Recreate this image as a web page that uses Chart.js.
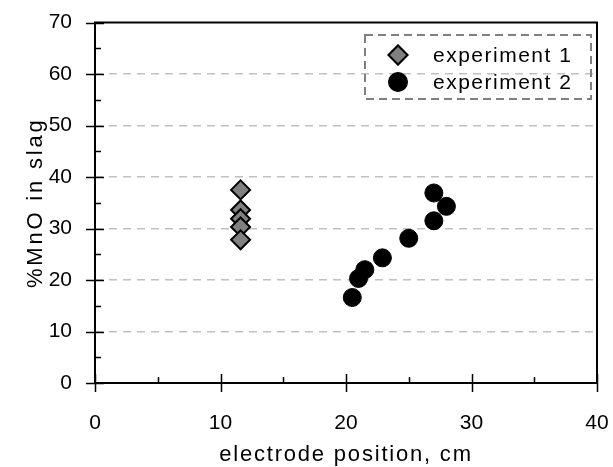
<!DOCTYPE html>
<html>
<head>
<meta charset="utf-8">
<script src="https://cdn.jsdelivr.net/npm/chart.js@4"></script>
<style>
  html, body { margin: 0; padding: 0; background: #fff; }
  canvas { display: block; }
</style>
</head>
<body>
<canvas id="mnoChart" width="613" height="467"></canvas>
<script>
// data
const seriesNames = ['experiment 1', 'experiment 2'];
const exp1X = [11.6, 11.6, 11.6, 11.6, 11.6];
const exp1Y = [37.5, 33.6, 31.9, 30.3, 27.8];
const exp2X = [20.5, 21.0, 21.5, 22.9, 25.0, 27.0, 28.0, 27.0];
const exp2Y = [16.6, 20.3, 22.0, 24.3, 28.1, 31.5, 34.3, 36.9];
const xTitle = 'electrode position, cm';
const yTitle = '%MnO in slag';

const FONT = "'Liberation Sans', Arial, sans-serif";

const toPoints = (xs, ys) => xs.map((x, i) => ({ x: x, y: ys[i] }));

// box, crossing major ticks and inward minor ticks
const frame = {
  id: 'frame',
  beforeDatasetsDraw(chart) {
    const { ctx, chartArea: a, scales: { x, y } } = chart;
    ctx.save();
    ctx.strokeStyle = '#000';
    ctx.lineWidth = 2;
    ctx.strokeRect(a.left, a.top, a.right - a.left, a.bottom - a.top);
    ctx.lineWidth = 1.5;
    ctx.beginPath();
    for (let v = 0; v <= 40; v += 5) {
      const px = Math.round(x.getPixelForValue(v)) + 0.5;
      const major = v % 10 === 0;
      ctx.moveTo(px, a.bottom + (major ? 9 : 0));
      ctx.lineTo(px, a.bottom - (major ? 9 : 6));
    }
    for (let v = 0; v <= 70; v += 5) {
      const py = Math.round(y.getPixelForValue(v)) + 0.5;
      const major = v % 10 === 0;
      ctx.moveTo(a.left - (major ? 9 : 0), py);
      ctx.lineTo(a.left + (major ? 9 : 6), py);
    }
    ctx.stroke();
    ctx.restore();
  },
  afterDraw(chart) {
    const { ctx, chartArea: a } = chart;
    ctx.save();
    ctx.fillStyle = '#000';
    ctx.font = '22px ' + FONT;
    ctx.letterSpacing = '1.8px';
    ctx.textAlign = 'center';
    ctx.textBaseline = 'alphabetic';
    ctx.fillText(xTitle, (a.left + a.right) / 2, 461);
    ctx.translate(42, (a.top + a.bottom) / 2);
    ctx.rotate(-Math.PI / 2);
    ctx.letterSpacing = '2.8px';
    ctx.fillText(yTitle, 0, 0);
    ctx.letterSpacing = '0px';
    ctx.restore();
  }
};

// dashed legend box inside the plot
const boxLegend = {
  id: 'boxLegend',
  afterDatasetsDraw(chart) {
    const { ctx } = chart;
    ctx.save();
    ctx.strokeStyle = '#808080';
    ctx.lineWidth = 2;
    ctx.setLineDash([8, 5]);
    ctx.strokeRect(365, 35, 226, 64);
    ctx.setLineDash([]);
    ctx.font = '21px ' + FONT;
    ctx.letterSpacing = '1.5px';
    ctx.textAlign = 'left';
    ctx.textBaseline = 'alphabetic';
    ctx.fillStyle = '#000';
    chart.data.datasets.forEach((ds, i) => {
      const cy = 55 + i * 27;
      Chart.helpers.drawPoint(ctx, {
        pointStyle: ds.pointStyle,
        radius: ds.pointRadius,
        borderWidth: ds.borderWidth,
        rotation: 0
      }, 398, cy);
      ctx.fillStyle = ds.backgroundColor;
      ctx.strokeStyle = ds.borderColor;
      ctx.lineWidth = ds.borderWidth;
      ctx.fill();
      ctx.stroke();
      ctx.fillStyle = '#000';
      ctx.fillText(ds.label, 433, cy + 7);
    });
    ctx.letterSpacing = '0px';
    ctx.restore();
  }
};

new Chart(document.getElementById('mnoChart'), {
  type: 'scatter',
  data: {
    datasets: [
      {
        label: seriesNames[0],
        data: toPoints(exp1X, exp1Y),
        pointStyle: 'rectRot',
        pointRadius: 9.5,
        backgroundColor: '#808080',
        borderColor: '#000',
        borderWidth: 2
      },
      {
        label: seriesNames[1],
        data: toPoints(exp2X, exp2Y),
        pointStyle: 'circle',
        pointRadius: 9,
        backgroundColor: '#000',
        borderColor: '#000',
        borderWidth: 1
      }
    ]
  },
  options: {
    responsive: false,
    animation: false,
    events: [],
    layout: { padding: { top: 22.5, right: 16, left: 0, bottom: 0 } },
    plugins: { legend: { display: false }, tooltip: { enabled: false } },
    scales: {
      x: {
        type: 'linear',
        min: 0,
        max: 40,
        afterFit: s => {
          s.height = 84;
          s.paddingLeft = 0;
          s.paddingRight = 0;
        },
        grid: { display: false, drawTicks: false },
        border: { display: false },
        ticks: {
          stepSize: 10,
          maxRotation: 0,
          padding: 28,
          color: '#000',
          font: { family: FONT, size: 21 }
        }
      },
      y: {
        min: 0,
        max: 70,
        afterFit: s => {
          s.width = 95;
          s.paddingTop = 0;
          s.paddingBottom = 0;
        },
        grid: {
          drawTicks: false,
          color: c => (c.tick && (c.tick.value === 0 || c.tick.value === 70)) ? 'rgba(0,0,0,0)' : '#c0c0c0',
          lineWidth: 1.5,
          tickBorderDash: [8, 6]
        },
        border: { display: false, dash: [8, 6] },
        ticks: {
          stepSize: 10,
          padding: 23,
          color: '#000',
          font: { family: FONT, size: 21 }
        }
      }
    }
  },
  plugins: [frame, boxLegend]
});
</script>
</body>
</html>
